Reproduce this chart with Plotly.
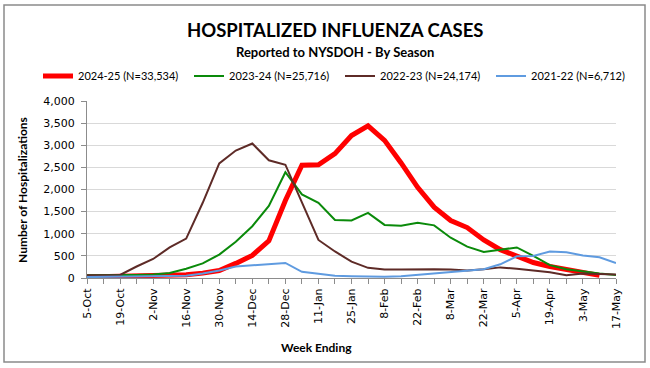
import plotly.graph_objects as go

weeks = ["5-Oct","12-Oct","19-Oct","26-Oct","2-Nov","9-Nov","16-Nov","23-Nov","30-Nov","7-Dec",
         "14-Dec","21-Dec","28-Dec","4-Jan","11-Jan","18-Jan","25-Jan","1-Feb","8-Feb","15-Feb",
         "22-Feb","1-Mar","8-Mar","15-Mar","22-Mar","29-Mar","5-Apr","12-Apr","19-Apr","26-Apr",
         "3-May","10-May","17-May"]

s2024 = [20, 25, 30, 35, 40, 55, 75, 110, 170, 330, 510, 840, 1750, 2550, 2560, 2810, 3220, 3440,
         3110, 2600, 2050, 1600, 1300, 1140, 860, 640, 480, 350, 260, 190, 120, 60]
s2023 = [60, 70, 70, 70, 80, 115, 210, 330, 530, 820, 1170, 1630, 2390, 1890, 1700, 1310, 1300, 1470,
         1200, 1180, 1250, 1190, 910, 710, 590, 640, 690, 500, 290, 200, 150, 100, 70]
s2022 = [60, 70, 70, 260, 430, 690, 890, 1700, 2590, 2880, 3040, 2660, 2560, 1710, 860, 600, 370, 230,
         190, 190, 200, 200, 190, 170, 200, 240, 210, 170, 130, 60, 100, 90, 80]
s2021 = [20, 25, 25, 25, 25, 35, 50, 100, 170, 260, 290, 310, 340, 140, 90, 50, 40, 30,
         30, 40, 70, 100, 130, 170, 200, 310, 490, 500, 600, 580, 510, 470, 340]

names = ["2024-25 (N=33,534)", "2023-24 (N=25,716)", "2022-23 (N=24,174)", "2021-22 (N=6,712)"]
tick_labels = [w if i % 2 == 0 else "" for i, w in enumerate(weeks)]

# plot area pixel geometry
L, R, T, B = 87, 616, 101, 278
W, H = 650, 368
def px(x):
    return (x - L) / (R - L)
def py(y):
    return (B - y) / (B - T)

fig = go.Figure()
fig.add_trace(go.Scatter(x=weeks[:len(s2024)], y=s2024, name=names[0], mode="lines",
                         line=dict(color="#FF0000", width=5)))
fig.add_trace(go.Scatter(x=weeks, y=s2023, name=names[1], mode="lines",
                         line=dict(color="#0A8A0A", width=2)))
fig.add_trace(go.Scatter(x=weeks, y=s2022, name=names[2], mode="lines",
                         line=dict(color="#5E2B27", width=2)))
fig.add_trace(go.Scatter(x=weeks, y=s2021, name=names[3], mode="lines",
                         line=dict(color="#5F9BE0", width=2)))

fig.update_layout(
    width=W, height=H,
    margin=dict(l=L, r=W - R, t=T, b=H - B, autoexpand=False),
    paper_bgcolor="white", plot_bgcolor="white",
    showlegend=True,
    legend=dict(orientation="h", x=px(38), xanchor="left", y=py(76), yanchor="middle",
                font=dict(family="Lato", size=11, color="#000000"),
                entrywidth=106, entrywidthmode="pixels", itemwidth=30,
                bgcolor="rgba(0,0,0,0)", tracegroupgap=0),
    xaxis=dict(type="category", categoryorder="array", categoryarray=weeks,
               tickmode="array", tickvals=weeks, ticktext=tick_labels, automargin=False,
               tickangle=-90, tickfont=dict(family="DejaVu Sans", size=11, color="#000000"),
               showline=True, linecolor="#8C8C8C", linewidth=1,
               ticks="outside", ticklen=5, tickcolor="#8C8C8C",
               showgrid=False, zeroline=False, range=[0, len(weeks) - 1]),
    yaxis=dict(range=[0, 4000], tickvals=[0, 500, 1000, 1500, 2000, 2500, 3000, 3500, 4000],
               tickformat=",d", tickfont=dict(family="DejaVu Sans", size=11, color="#000000"),
               showline=True, linecolor="#8C8C8C", linewidth=1, automargin=False,
               ticks="outside", ticklen=5, tickcolor="#8C8C8C", ticklabelstandoff=4,
               showgrid=True, gridcolor="#D9D9D9", gridwidth=1, zeroline=False),
    font=dict(family="Lato", color="#000000"),
)

fig.add_annotation(text="<b>HOSPITALIZED INFLUENZA CASES</b>", x=px(335), y=py(30),
                   xref="paper", yref="paper", showarrow=False, xanchor="center", yanchor="middle",
                   font=dict(family="Lato", size=18.5, color="#000000"))
fig.add_annotation(text="<b>Reported to NYSDOH - By Season</b>", x=px(335), y=py(52),
                   xref="paper", yref="paper", showarrow=False, xanchor="center", yanchor="middle",
                   font=dict(family="Lato", size=13, color="#000000"))
fig.add_annotation(text="<b>Week Ending</b>", x=px(316), y=py(347),
                   xref="paper", yref="paper", showarrow=False, xanchor="center", yanchor="middle",
                   font=dict(family="Lato", size=12, color="#000000"))
fig.add_annotation(text="<b>Number of Hospitalizations</b>", x=px(22), y=py(190), textangle=-90,
                   xref="paper", yref="paper", showarrow=False, xanchor="center", yanchor="middle",
                   font=dict(family="Lato", size=12, color="#000000"))

fig.add_shape(type="rect", xref="paper", yref="paper",
              x0=px(4), x1=px(645), y0=py(362), y1=py(5),
              line=dict(color="#8A8A8A", width=1.5), fillcolor="rgba(0,0,0,0)")

fig.write_html("out.html", config={"displayModeBar": False},
               post_script="document.body.style.margin='0px';document.body.style.overflow='hidden';")
